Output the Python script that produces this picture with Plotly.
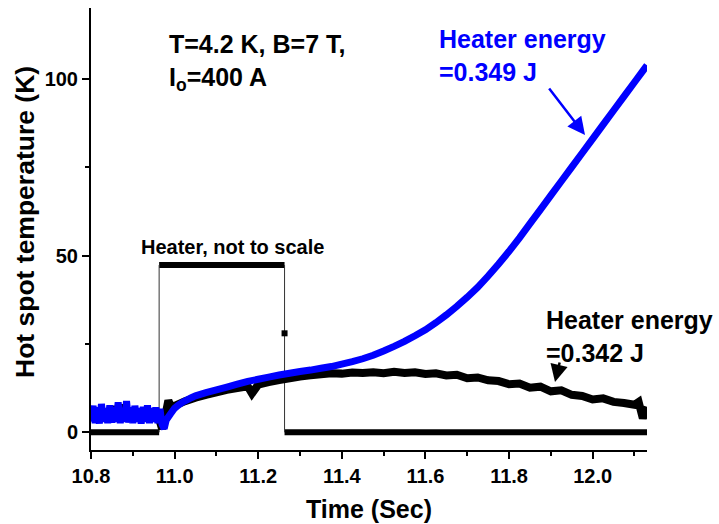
import plotly.graph_objects as go

# ---------------- data ----------------
# quenching run (blue)
blue_t = [10.800, 10.805, 10.810, 10.815, 10.820, 10.825, 10.830, 10.835, 10.840, 10.845,
          10.850, 10.855, 10.860, 10.865, 10.870, 10.875, 10.880, 10.885, 10.890, 10.895,
          10.900, 10.905, 10.910, 10.915, 10.920, 10.925, 10.930, 10.935, 10.940, 10.945,
          10.950, 10.955, 10.960, 10.965, 10.970, 10.975, 10.980, 10.990, 11.000, 11.010,
          11.020, 11.030, 11.040, 11.050, 11.075, 11.100, 11.125, 11.150, 11.175, 11.200,
          11.225, 11.250, 11.275, 11.300, 11.325, 11.350, 11.375, 11.400, 11.425, 11.450,
          11.475, 11.500, 11.525, 11.550, 11.575, 11.600, 11.625, 11.650, 11.675, 11.700,
          11.725, 11.750, 11.775, 11.800, 11.825, 11.850, 11.875, 11.900, 11.925, 11.950,
          11.975, 12.000, 12.025, 12.050, 12.075, 12.100, 12.125, 12.130]
blue_T = [3.0, 7.5, 2.6, 7.0, 2.5, 8.0, 3.0, 6.8, 2.6, 7.6,
          2.8, 7.0, 3.0, 8.5, 2.6, 6.8, 3.0, 8.8, 2.8, 7.0,
          2.6, 7.5, 3.0, 6.8, 2.5, 7.2, 3.0, 7.6, 2.6, 6.8,
          3.0, 7.0, 2.6, 6.6, 2.2, 1.0, 3.5, 5.2, 6.8, 7.8,
          8.6, 9.2, 9.8, 10.3, 11.2, 12.0, 12.8, 13.6, 14.4, 15.0,
          15.6, 16.2, 16.7, 17.2, 17.6, 18.1, 18.6, 19.3, 20.0, 20.8,
          21.8, 23.0, 24.3, 25.7, 27.3, 29.0, 31.0, 33.2, 35.6, 38.2,
          41.0, 44.2, 47.6, 51.2, 55.0, 59.0, 63.0, 67.0, 71.0, 75.0,
          79.0, 83.0, 87.0, 91.0, 95.0, 99.0, 103.0, 103.8]

# recovering run (black)
black_t = [10.800, 10.820, 10.840, 10.850, 10.860, 10.870, 10.880, 10.900, 10.920, 10.940,
           10.960, 10.970, 10.980, 10.985, 10.990, 11.000, 11.025, 11.050, 11.075, 11.100,
           11.125, 11.150, 11.175, 11.185, 11.200, 11.225, 11.250, 11.275, 11.300, 11.325,
           11.350, 11.375, 11.400, 11.425, 11.450, 11.475, 11.500, 11.525, 11.550, 11.575,
           11.600, 11.625, 11.650, 11.675, 11.700, 11.725, 11.750, 11.775, 11.800, 11.825,
           11.850, 11.875, 11.900, 11.925, 11.950, 11.975, 12.000, 12.025, 12.050, 12.075,
           12.100, 12.110, 12.120, 12.130]
black_T = [4.5, 5.5, 4.5, 7.0, 5.0, 7.5, 5.0, 5.5, 4.5, 5.5,
           5.0, 1.0, 6.0, 9.0, 7.5, 7.5, 8.8, 9.8, 10.6, 11.3,
           12.0, 12.5, 13.0, 11.0, 13.5, 14.2, 14.8, 15.3, 15.8, 16.1,
           16.4, 16.7, 16.6, 16.9, 16.8, 17.0, 16.7, 17.1, 16.8, 17.0,
           16.5, 16.7, 16.1, 16.3, 15.3, 15.5, 14.7, 14.5, 13.6, 13.8,
           12.6, 12.9, 11.6, 11.9, 10.6, 10.3, 9.3, 9.6, 8.6, 8.3,
           7.8, 8.6, 4.0, 7.2]

# heater pulse (not to scale)
heater_t_on = 10.963
heater_t_off = 11.263
heater_level = 47.3
heater_mid_T = 28.0
t_start = 10.800
t_end = 12.130

x_ticks = [10.8, 11.0, 11.2, 11.4, 11.6, 11.8, 12.0]
y_ticks = [0, 50, 100]

FONT = "Liberation Sans, Arial, sans-serif"

fig = go.Figure()

# heater pulse: thick horizontal parts
fig.add_trace(go.Scatter(
    x=[t_start, heater_t_on, None, heater_t_on, heater_t_off, None, heater_t_off, t_end],
    y=[0, 0, None, heater_level, heater_level, None, 0, 0],
    mode="lines", line=dict(color="black", width=6), connectgaps=False,
    hoverinfo="skip", showlegend=False))
# heater pulse: thin edges
fig.add_trace(go.Scatter(
    x=[heater_t_on, heater_t_on, None, heater_t_off, heater_t_off],
    y=[0, heater_level, None, heater_level, 0],
    mode="lines", line=dict(color="#333333", width=1), connectgaps=False,
    hoverinfo="skip", showlegend=False))
fig.add_trace(go.Scatter(
    x=[heater_t_off], y=[heater_mid_T], mode="markers",
    marker=dict(symbol="square", size=6, color="black"), showlegend=False))

# black temperature
fig.add_trace(go.Scatter(x=black_t, y=black_T, mode="lines",
                         line=dict(color="black", width=8, simplify=False),
                         showlegend=False))
# blue temperature
fig.add_trace(go.Scatter(x=blue_t, y=blue_T, mode="lines",
                         line=dict(color="#0000ff", width=7, simplify=False),
                         showlegend=False))

L, R, T, B = 91, 72, 8, 74
W, H = 719, 524
pw, ph = W - L - R, H - T - B


def px(x):
    return (x - L) / pw


def py(y):
    return (H - B - y) / ph


annotations = [
    dict(text="<b>T=4.2 K, B=7 T,<br>I<sub>o</sub>=400 A</b>", x=px(167), y=py(62),
         xanchor="left", yanchor="middle", align="left",
         font=dict(size=25, color="black", family=FONT)),
    dict(text="<b>Heater energy<br>=0.349 J</b>", x=px(437), y=py(56),
         xanchor="left", yanchor="middle", align="left",
         font=dict(size=25, color="#0000ff", family=FONT)),
    dict(text="<b>Heater energy<br>=0.342 J</b>", x=px(544), y=py(336),
         xanchor="left", yanchor="middle", align="left",
         font=dict(size=25, color="black", family=FONT)),
    dict(text="<b>Heater, not to scale</b>", x=px(139), y=py(247),
         xanchor="left", yanchor="middle", align="left",
         font=dict(size=20, color="black", family=FONT)),
    # y-axis title
    dict(text="<b>Hot spot temperature (K)</b>", x=px(25), y=py(222),
         xanchor="center", yanchor="middle", textangle=-90,
         font=dict(size=26.5, color="black", family=FONT)),
]
for a in annotations:
    a.update(xref="paper", yref="paper", showarrow=False)

# arrows
annotations.append(dict(xref="paper", yref="paper", x=px(585), y=py(135), text="",
                        showarrow=True, axref="pixel", ayref="pixel", ax=-37, ay=-48,
                        arrowhead=2, arrowsize=1.4, arrowwidth=2.5, arrowcolor="#0000ff"))
annotations.append(dict(xref="paper", yref="paper", x=px(555), y=py(382), text="",
                        showarrow=True, axref="pixel", ayref="pixel", ax=5, ay=-21,
                        arrowhead=2, arrowsize=1.4, arrowwidth=2.5, arrowcolor="black"))

fig.update_layout(
    width=W, height=H,
    margin=dict(l=L, r=R, t=T, b=B, autoexpand=False),
    paper_bgcolor="white", plot_bgcolor="white",
    font=dict(family=FONT, color="black"),
    annotations=annotations,
    xaxis=dict(range=[t_start, t_end], tickvals=x_ticks,
               ticktext=[f"{v:.1f}" for v in x_ticks],
               showline=True, linecolor="black", linewidth=2,
               ticks="outside", ticklen=7, tickwidth=2, tickcolor="black",
               minor=dict(dtick=0.1, tick0=10.8, ticks="outside", ticklen=4,
                          tickwidth=2, tickcolor="black"),
               showgrid=False, zeroline=False, mirror=False, automargin=False,
               tickfont=dict(size=20, family=FONT, weight="bold"),
               title=dict(text="<b>Time (Sec)</b>", font=dict(size=25, family=FONT),
                          standoff=14)),
    yaxis=dict(range=[-5, 120], tickvals=y_ticks,
               showline=True, linecolor="black", linewidth=2,
               ticks="outside", ticklen=7, tickwidth=2, tickcolor="black",
               minor=dict(dtick=25, tick0=0, ticks="outside", ticklen=4,
                          tickwidth=2, tickcolor="black"),
               showgrid=False, zeroline=False, mirror=False, automargin=False,
               tickfont=dict(size=20, family=FONT, weight="bold")),
)

fig.write_html("out.html")
